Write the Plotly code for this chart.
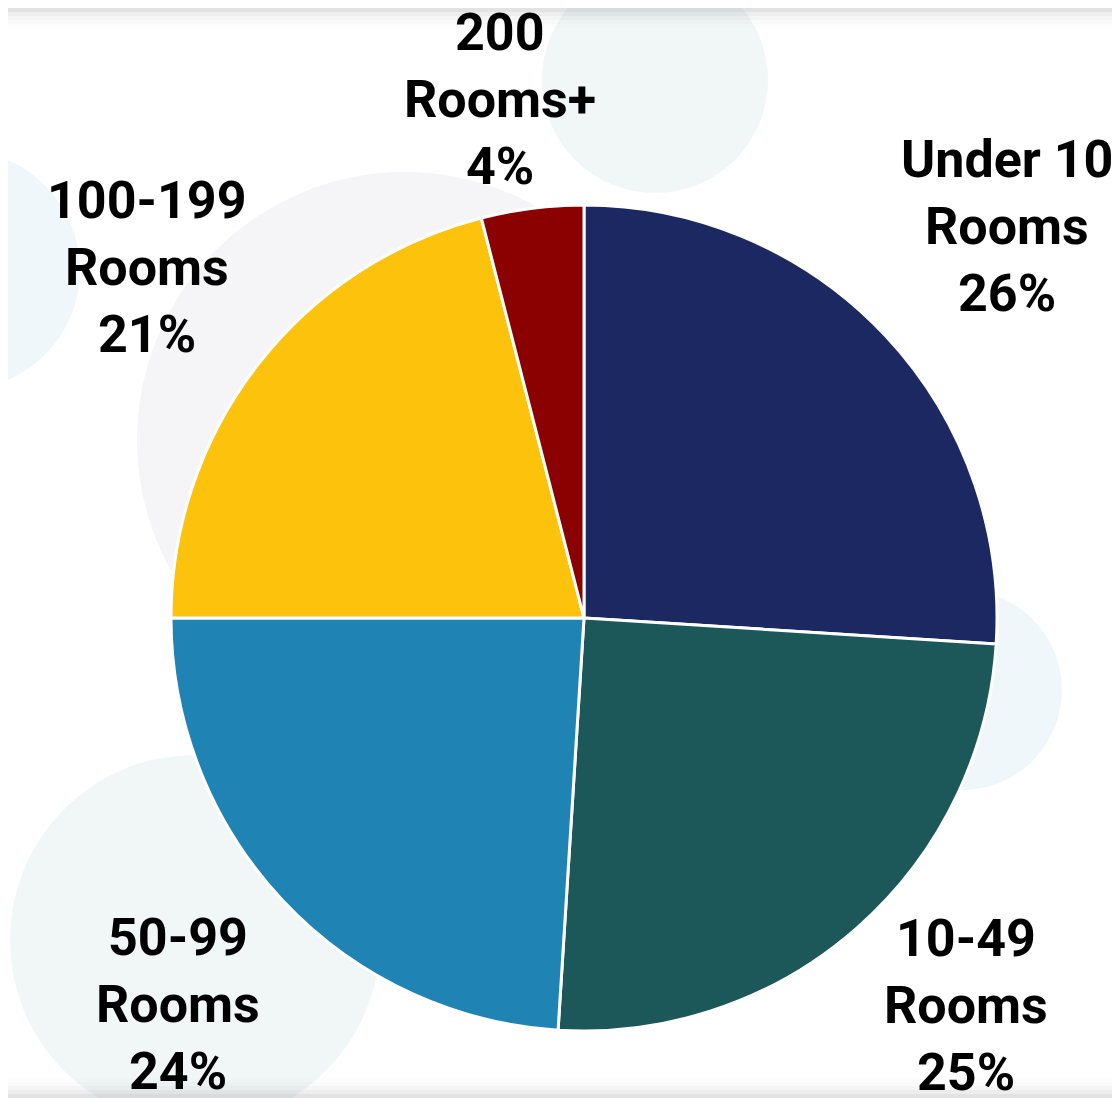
import math
import plotly.graph_objects as go

categories = ["Under 10 Rooms", "10-49 Rooms", "50-99 Rooms", "100-199 Rooms", "200 Rooms+"]
label_lines = [["Under 10", "Rooms"], ["10-49", "Rooms"], ["50-99", "Rooms"], ["100-199", "Rooms"], ["200", "Rooms+"]]
values = [26, 25, 24, 21, 4]
colors = ["#1b2862", "#1c5759", "#1f83b3", "#fdc20c", "#8b0000"]

# manual label placement (distance from centre in px, angular nudge in degrees)
label_dist = [576, 544, 561, 560, 525]
label_nudge = [0.4, -3.2, -0.4, 0.9, -2.0]

OFF = 8  # page body margin
W, H = 1120 - OFF, 1098 - OFF
CX, CY, R = 584, 618, 413
FONT = "Roboto, sans-serif"
FS = 52
LINE_H = 67

def px(x):
    return (x - OFF) / W

def py(y):
    return 1 - (y - OFF) / H

fig = go.Figure()

fig.add_trace(go.Pie(
    labels=categories,
    values=values,
    sort=False,
    direction="clockwise",
    rotation=0,
    marker=dict(colors=colors, line=dict(color="white", width=3)),
    textinfo="none",
    hoverinfo="label+percent",
    showlegend=False,
    domain=dict(x=[px(CX - R), px(CX + R)], y=[py(CY + R), py(CY - R)]),
))

# background decorative bubbles
bubbles = [
    (655, 80, 113, "#f1f6f6"),
    (-40, 270, 120, "#f0f7fa"),
    (405, 440, 268, "#f5f5f7"),
    (962, 690, 100, "#f0f7fa"),
    (195, 940, 185, "#f1f6f6"),
]
shapes = []
for bx, by, br, bc in bubbles:
    shapes.append(dict(type="circle", xref="paper", yref="paper",
                       x0=px(bx - br), x1=px(bx + br), y0=py(by + br), y1=py(by - br),
                       fillcolor=bc, line=dict(width=0), layer="below"))
# soft shadows at top and bottom edges
for i, a in enumerate([0.08, 0.06, 0.04, 0.025, 0.012]):
    shapes.append(dict(type="rect", xref="paper", yref="paper",
                       x0=0, x1=1, y0=py(OFF + 4 * (i + 1)), y1=1,
                       fillcolor="rgba(120,120,120,%.3f)" % a, line=dict(width=0), layer="below"))
    shapes.append(dict(type="rect", xref="paper", yref="paper",
                       x0=0, x1=1, y0=0, y1=py(1098 - 4 * (i + 1)),
                       fillcolor="rgba(120,120,120,%.3f)" % a, line=dict(width=0), layer="below"))

# labels placed outside, along each slice's mid-angle
total = sum(values)
annotations = []
cum = 0
for lines, v, dist, nudge in zip(label_lines, values, label_dist, label_nudge):
    mid = (cum + v / 2) / total * 360 + nudge
    cum += v
    a = math.radians(mid)
    lx, ly = CX + dist * math.sin(a), CY - dist * math.cos(a)
    pct = "%d%%" % round(v / total * 100)
    txt_lines = lines + [pct]
    for j, t in enumerate(txt_lines):
        yy = ly + (j - (len(txt_lines) - 1) / 2) * LINE_H
        annotations.append(dict(
            x=px(lx), y=py(yy), xref="paper", yref="paper",
            text=t, showarrow=False,
            xanchor="center", yanchor="middle", align="center",
            font=dict(family=FONT, size=FS, color="black", weight="bold"),
        ))

fig.update_layout(
    width=W, height=H,
    margin=dict(l=0, r=0, t=0, b=0),
    paper_bgcolor="white",
    plot_bgcolor="white",
    shapes=shapes,
    annotations=annotations,
)

fig.write_html("out.html")
